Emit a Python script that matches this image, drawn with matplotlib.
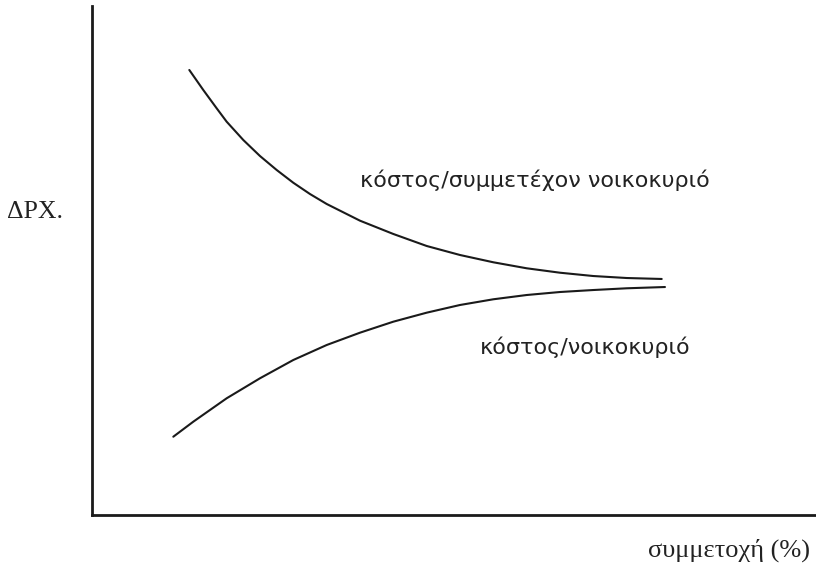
import numpy as np
import matplotlib
matplotlib.use("Agg")
import matplotlib.pyplot as plt

# curve points (x: participation, y: drachmas), 0-100 scale
x_upper = [13.44, 15.37, 17.22, 18.60, 20.90, 23.20, 25.51, 27.80, 30.11, 32.42,
           37.02, 41.62, 46.23, 50.83, 55.43, 60.04, 64.64, 69.24, 73.85, 78.69]
y_upper = [87.43, 83.50, 79.90, 77.27, 73.67, 70.53, 67.78, 65.28, 63.06, 61.10,
           57.82, 55.21, 52.85, 51.08, 49.65, 48.47, 47.60, 46.95, 46.56, 46.37]

x_lower = [11.23, 13.99, 18.60, 23.20, 27.80, 32.42, 37.02, 41.62, 46.23, 50.83,
           55.43, 60.04, 64.64, 69.24, 73.85, 79.14]
y_lower = [15.38, 18.33, 22.93, 26.86, 30.45, 33.40, 35.82, 37.98, 39.75, 41.26,
           42.38, 43.22, 43.81, 44.20, 44.54, 44.79]

label_upper = "κόστος/συμμετέχον νοικοκυριό"
label_lower = "κόστος/νοικοκυριό"
y_label = "ΔΡΧ."
x_label = "συμμετοχή (%)"

fig = plt.figure(figsize=(8.16, 5.68), dpi=100)
ax = fig.add_axes([92/816, 53/568, 724/816, 509/568])

ax.plot(x_upper, y_upper, color="#1a1a1a", lw=1.5, solid_capstyle="round",
        solid_joinstyle="round")
ax.plot(x_lower, y_lower, color="#1a1a1a", lw=1.5, solid_capstyle="round",
        solid_joinstyle="round")

ax.text(37.0, 65.8, label_upper, fontsize=16, family="DejaVu Sans",
        va="center", ha="left", color="#222222")
ax.text(53.6, 33.0, label_lower, fontsize=16, family="DejaVu Sans",
        va="center", ha="left", color="#222222")

ax.set_xlim(0, 100)
ax.set_ylim(0, 100)
ax.set_xticks([])
ax.set_yticks([])
for s in ["top", "right"]:
    ax.spines[s].set_visible(False)
for s in ["left", "bottom"]:
    ax.spines[s].set_linewidth(2)
    ax.spines[s].set_color("#1a1a1a")

fig.text(7/816, 1 - 212/568, y_label, fontsize=18.5, family="Liberation Serif",
         va="center", ha="left", color="#222222")
fig.text(810/816, 1 - 550/568, x_label, fontsize=19, family="Liberation Serif",
         va="center", ha="right", color="#222222")

fig.savefig("out.png", dpi=100, facecolor="white")
